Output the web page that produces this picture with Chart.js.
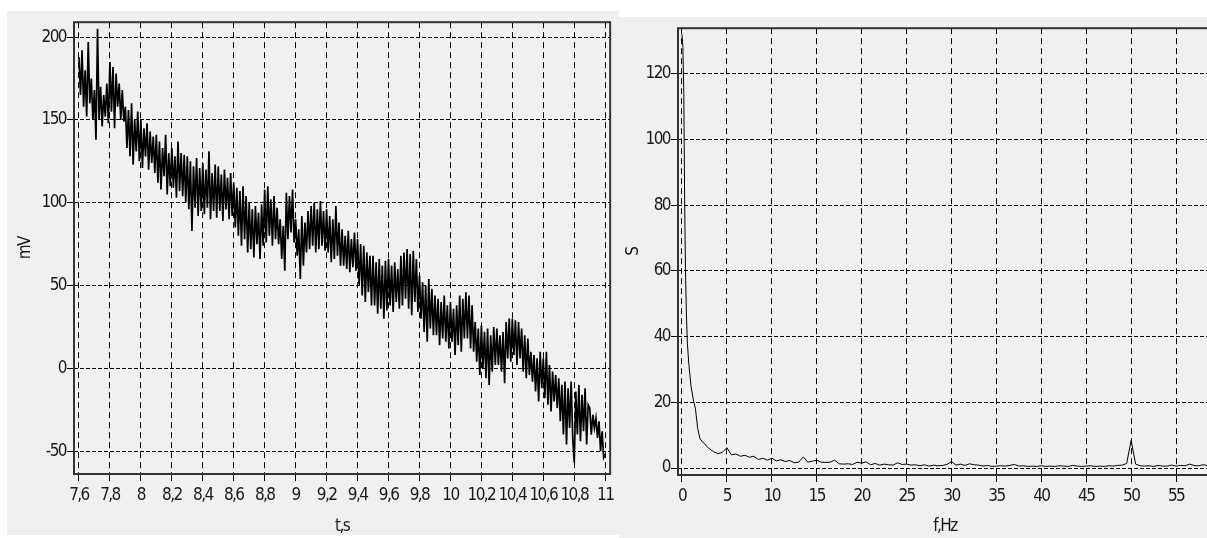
<!DOCTYPE html>
<html>
<head>
<meta charset="utf-8">
<script src="https://cdn.jsdelivr.net/npm/chart.js@4.4.1/dist/chart.umd.min.js"></script>
<style>
  html, body { margin: 0; padding: 0; background: #fff; overflow: hidden; }
  body { width: 1207px; height: 538px; position: relative; }
  canvas { position: absolute; background: #f0f0f0; }
  #signal { left: 7px; top: 11px; }
  #spectrum { left: 619px; top: 17px; }
</style>
</head>
<body>
<canvas id="signal" width="612" height="524"></canvas>
<canvas id="spectrum" width="600" height="521"></canvas>
<script>
// signal, mV, sampled every 0.01 s from 7.6 s (one row = 0.1 s)
const tStart = 7.6;
const tStep = 0.01;
const mv = [
  188, 165, 192, 158, 180, 152, 197, 160, 175, 150,
  168, 138, 205, 150, 170, 146, 165, 152, 172, 148,
  185, 155, 182, 145, 178, 158, 172, 150, 168, 149,
  158, 133, 156, 128, 160, 123, 150, 131, 155, 125,
  150, 121, 145, 128, 148, 120, 143, 124, 140, 118,
  141, 112, 137, 108, 133, 116, 141, 105, 130, 110,
  133, 109, 128, 103, 137, 107, 130, 104, 129, 100,
  128, 96, 125, 83, 122, 97, 127, 92, 121, 95,
  124, 93, 120, 97, 131, 90, 118, 95, 123, 91,
  122, 95, 117, 89, 120, 96, 115, 90, 118, 92,
  112, 85, 109, 80, 107, 74, 110, 78, 104, 70,
  100, 72, 96, 67, 98, 75, 94, 66, 99, 74,
  108, 76, 110, 80, 102, 74, 104, 78, 97, 75,
  90, 66, 86, 59, 106, 78, 104, 82, 108, 76,
  90, 68, 84, 54, 92, 62, 88, 70, 95, 72,
  98, 74, 100, 70, 96, 72, 101, 74, 95, 71,
  96, 70, 92, 64, 90, 66, 98, 68, 88, 62,
  84, 62, 80, 60, 83, 58, 78, 61, 82, 59,
  78, 50, 75, 44, 74, 40, 70, 46, 68, 38,
  68, 38, 64, 33, 66, 36, 62, 30, 65, 35,
  66, 38, 62, 34, 64, 40, 60, 36, 68, 38,
  70, 42, 72, 36, 69, 32, 71, 40, 66, 34,
  56, 30, 52, 22, 50, 16, 54, 24, 48, 20,
  44, 20, 42, 14, 40, 18, 44, 16, 38, 12,
  40, 16, 36, 8, 38, 14, 44, 10, 42, 18,
  46, 18, 44, 12, 38, 10, 28, 4, 24, -4,
  26, 0, 22, -6, 24, -10, 20, -2, 25, 2,
  24, 2, 20, -2, 22, -9, 28, 6, 30, 4,
  30, 8, 29, 2, 28, 6, 24, -2, 20, -6,
  18, -4, 10, -8, 8, -14, 6, -20, 10, -12,
  6, -18, 10, -22, 2, -26, -2, -20, -4, -24,
  -6, -32, -10, -40, -8, -46, -12, -36, -8, -42,
  -57, -14, -40, -10, -44, -16, -38, -12, -46, -22,
  -24, -40, -28, -36, -30, -42, -32, -50, -38, -54,
  -52
];

// spectrum S(f): fine steps near 0 Hz, then every 0.5 Hz from 3.5 Hz
const freqHead = [0, 0.1, 0.2, 0.3, 0.4, 0.5, 0.6, 0.75, 1.0, 1.25, 1.5, 1.75, 2.0, 2.25, 2.5, 2.75, 3.0];
const sHead = [132, 128, 114, 80, 58, 46, 38, 32, 25, 21, 18, 12, 9, 8, 7.5, 6.6, 6.0];
const fTailStart = 3.5;
const fTailStep = 0.5;
const sTail = [
  5.0, 4.4, 4.8, 6.2, 4.0, 4.3, 3.6, 3.9, 3.3, 3.6,
  2.6, 3.0, 2.4, 3.0, 2.2, 2.5, 2.0, 2.3, 1.6, 1.8,
  3.4, 1.8, 2.1, 2.4, 1.8, 1.7, 1.8, 2.4, 1.3, 1.2,
  1.3, 1.1, 1.8, 1.5, 1.9, 1.0, 1.4, 0.9, 1.2, 1.0,
  0.9, 1.6, 1.1, 1.2, 0.9, 1.0, 0.7, 1.0, 0.6, 0.9,
  0.7, 0.8, 1.1, 2.0, 0.9, 1.2, 0.8, 1.3, 1.0, 0.9,
  0.6, 0.8, 0.5, 0.6, 0.7, 0.6, 0.8, 1.1, 0.6, 0.7,
  0.5, 0.6, 0.5, 0.7, 0.5, 0.6, 0.5, 0.7, 0.6, 0.5,
  0.8, 0.6, 0.5, 0.6, 0.7, 0.5, 0.6, 0.5, 0.7, 0.6,
  0.8, 0.9, 1.4, 8.4, 1.2, 0.7, 0.6, 0.7, 0.5, 0.8,
  0.6, 0.6, 0.9, 0.6, 0.8, 0.7, 1.2, 0.8, 0.7, 1.0,
  0.8
];

const FONT = "'DejaVu Sans Condensed', 'Liberation Sans Narrow', sans-serif";
const TEXT = '#1a1a1a';
Chart.defaults.font.family = FONT;
Chart.defaults.font.size = 17;
Chart.defaults.color = TEXT;

const signalPts = mv.map((v, i) => ({ x: tStart + i * tStep, y: v }));
const spectrumPts = freqHead.map((f, i) => ({ x: f, y: sHead[i] }))
  .concat(sTail.map((v, i) => ({ x: fTailStart + i * fTailStep, y: v })));

// box around the plot area, tighter text like the original narrow font
const frame = {
  id: 'frame',
  beforeDraw(chart) {
    chart.ctx.letterSpacing = '-1.6px';
  },
  afterDatasetsDraw(chart) {
    const { ctx, chartArea: a } = chart;
    ctx.save();
    ctx.strokeStyle = '#333';
    ctx.lineWidth = 2;
    ctx.strokeRect(a.left, a.top, a.right - a.left, a.bottom - a.top);
    ctx.restore();
  }
};

function xAxis(min, max, step, label, height, titlePad, fmt) {
  return {
    type: 'linear', min: min, max: max,
    ticks: { stepSize: step, includeBounds: false, maxTicksLimit: 100, autoSkip: false,
             maxRotation: 0, padding: 4, color: TEXT, callback: fmt },
    grid: { color: '#000', lineWidth: 1, tickLength: 7, tickColor: '#000', tickBorderDash: [] },
    border: { display: false, dash: [6, 4] },
    title: { display: true, text: label, color: TEXT, font: { size: 17, lineHeight: 1 },
             padding: { top: 0, bottom: titlePad } },
    afterFit: s => { s.height = height; }
  };
}

function yAxis(min, max, step, label, width, titlePad) {
  return {
    min: min, max: max,
    ticks: { stepSize: step, includeBounds: false, maxTicksLimit: 100, padding: 1, color: TEXT },
    grid: { color: '#000', lineWidth: 1, tickLength: 7, tickColor: '#000', tickBorderDash: [] },
    border: { display: false, dash: [4, 2] },
    title: { display: true, text: label, color: TEXT, font: { size: 17, lineHeight: 1 },
             padding: { top: titlePad, bottom: 0 } },
    afterFit: s => { s.width = width; }
  };
}

const common = {
  responsive: false,
  animation: false,
  devicePixelRatio: 1,
  events: [],
  plugins: { legend: { display: false }, tooltip: { enabled: false } },
  elements: { point: { radius: 0 }, line: { tension: 0 } }
};

new Chart(document.getElementById('signal'), {
  type: 'line',
  data: { datasets: [{ data: signalPts, borderColor: '#000', borderWidth: 1.7, fill: false }] },
  options: Object.assign({}, common, {
    layout: { padding: { top: 7, right: 7, left: 0, bottom: 0 } },
    scales: {
      x: xAxis(7.568, 11.032, 0.2, 't,s', 61, 0,
               v => String(Math.round(v * 10) / 10).replace('.', ',')),
      y: yAxis(-63.8, 209, 50, 'mV', 67, 10.5)
    }
  }),
  plugins: [frame]
});

new Chart(document.getElementById('spectrum'), {
  type: 'line',
  data: { datasets: [{ data: spectrumPts, borderColor: '#000', borderWidth: 1, fill: false }] },
  options: Object.assign({}, common, {
    layout: { padding: { top: 7, right: 7, left: 0, bottom: 0 } },
    scales: {
      x: xAxis(-0.445, 59.0, 5, 'f,Hz', 63, 2.5, v => String(Math.round(v))),
      y: yAxis(-2.11, 133.87, 20, 'S', 59, 6.5)
    }
  }),
  plugins: [frame]
});
</script>
</body>
</html>
